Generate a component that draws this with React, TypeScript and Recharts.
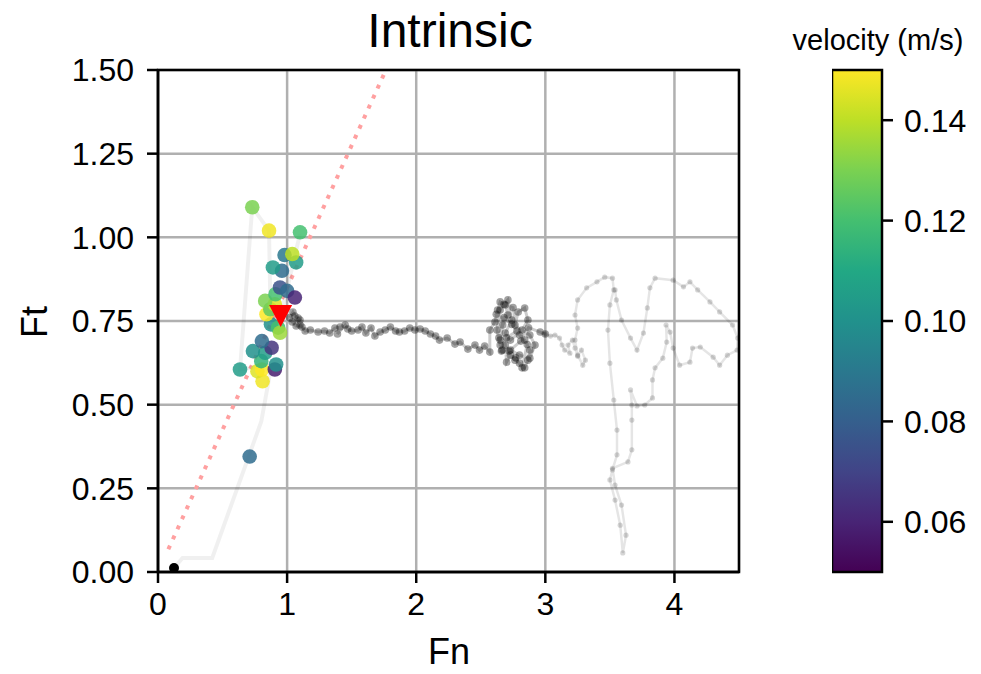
import React from "react";
import {
  ComposedChart,
  CartesianGrid,
  ReferenceArea,
  ReferenceLine,
  Scatter,
  ScatterChart,
  XAxis,
  YAxis,
} from "recharts";

const FONT = "'Liberation Sans', Arial, Helvetica, sans-serif";

const xTicks = [0, 1, 2, 3, 4];
const yTicks = [0, 0.25, 0.5, 0.75, 1.0, 1.25, 1.5];
const cbTicks = [0.06, 0.08, 0.1, 0.12, 0.14];
const velRange = [0.05, 0.15];

// contact points coloured by sliding velocity
const pointFn = [0.71, 0.81, 0.77, 0.805, 0.905, 0.635, 0.8, 0.915, 0.83, 0.88, 0.735, 0.805, 0.875, 0.93, 0.945, 0.84, 0.87, 0.905, 0.83, 0.91, 0.945, 1.0, 1.06, 0.96, 0.89, 1.07, 0.98, 1.04, 1.1, 0.86, 0.73];
const pointFt = [0.345, 0.57, 0.6, 0.605, 0.605, 0.605, 0.63, 0.62, 0.655, 0.67, 0.66, 0.69, 0.74, 0.73, 0.715, 0.77, 0.785, 0.8, 0.81, 0.83, 0.85, 0.84, 0.82, 0.9, 0.91, 0.925, 0.947, 0.95, 1.015, 1.02, 1.09];
const pointVel = [0.085, 0.148, 0.145, 0.15, 0.058, 0.105, 0.115, 0.1, 0.105, 0.065, 0.1, 0.085, 0.1, 0.12, 0.135, 0.15, 0.125, 0.145, 0.13, 0.12, 0.075, 0.085, 0.06, 0.085, 0.105, 0.105, 0.09, 0.14, 0.12, 0.148, 0.13];

// faint path joining the approach
const approachFn = [0.124, 0.19, 0.42, 0.8, 0.88, 0.635, 0.73, 0.86, 0.87, 0.93, 1.1, 1.0, 0.95];
const approachFt = [0.012, 0.042, 0.042, 0.45, 0.62, 0.605, 1.09, 1.02, 0.8, 0.73, 1.01, 0.85, 0.765];

// force trajectory after contact: sliding run and dense cluster
const headFn = [
  1.02, 1.045, 1.06, 1.085, 1.1, 1.04, 1.07, 1.1, 1.115, 1.14, 1.18, 1.24, 1.29, 1.33, 1.37, 1.41, 1.39, 1.45, 1.47, 1.5,
  1.55, 1.58, 1.61, 1.65, 1.68, 1.72, 1.76, 1.8, 1.84, 1.87, 1.91, 1.95, 1.99, 2.03, 2.07, 2.11, 2.15, 2.18, 2.24, 2.3,
  2.34, 2.4, 2.455, 2.49, 2.53, 2.57, 2.57, 2.61, 2.63, 2.65, 2.69, 2.71, 2.67, 2.65, 2.665, 2.69, 2.7, 2.73, 2.765, 2.8,
  2.84, 2.865, 2.88, 2.84, 2.8, 2.765, 2.79, 2.84, 2.865, 2.82, 2.73, 2.69, 2.74, 2.71, 2.65, 2.625, 2.65, 2.73, 2.8, 2.88,
  2.92, 2.88, 2.62, 2.68, 2.75, 2.78, 2.7, 2.66, 2.77, 2.82, 2.86, 2.74, 2.68, 2.64, 2.72, 2.81, 2.87,
  2.96, 3.0,
];
const headFt = [
  0.76, 0.777, 0.765, 0.759, 0.753, 0.747, 0.735, 0.738, 0.732, 0.72, 0.723, 0.717, 0.72, 0.714, 0.729, 0.732, 0.711, 0.738, 0.726, 0.72,
  0.723, 0.732, 0.714, 0.729, 0.705, 0.717, 0.723, 0.732, 0.72, 0.717, 0.72, 0.729, 0.723, 0.726, 0.72, 0.711, 0.705, 0.693, 0.699, 0.681,
  0.687, 0.666, 0.678, 0.663, 0.675, 0.657, 0.723, 0.747, 0.783, 0.807, 0.798, 0.768, 0.738, 0.693, 0.663, 0.678, 0.627, 0.648, 0.633, 0.624,
  0.61, 0.633, 0.663, 0.693, 0.708, 0.738, 0.777, 0.789, 0.753, 0.723, 0.693, 0.714, 0.753, 0.813, 0.783, 0.723, 0.678, 0.663, 0.648, 0.639,
  0.678, 0.708, 0.77, 0.8, 0.79, 0.72, 0.7, 0.66, 0.64, 0.61, 0.68, 0.74, 0.76, 0.7, 0.66, 0.69, 0.73,
  0.717, 0.711,
];

// force trajectory: later wandering loop (fainter)
const tailFn = [
  3.0, 3.04, 3.075, 3.11, 3.13, 3.15, 3.19, 3.175, 3.21, 3.23, 3.25, 3.28, 3.31, 3.29, 3.25, 3.23, 3.25,
  3.23, 3.25, 3.32, 3.4, 3.46, 3.52, 3.53, 3.5, 3.485, 3.5, 3.53, 3.555, 3.555, 3.52, 3.5, 3.54, 3.58, 3.6, 3.625, 3.59,
  3.54, 3.52, 3.64, 3.67, 3.67, 3.67, 3.66, 3.71, 3.77, 3.83, 3.83, 3.85, 3.91, 3.94, 3.935, 3.966, 3.99, 4.04, 4.12, 4.14,
  4.2, 4.3, 4.35, 4.41, 4.485, 4.49, 4.45, 4.35, 4.275, 4.18, 4.12, 4.07, 3.99, 3.85, 3.81, 3.79, 3.76, 3.71, 3.66, 3.59,
  3.55, 3.54,
];
const tailFt = [
  0.711, 0.705, 0.708, 0.699, 0.678, 0.663, 0.654, 0.678, 0.693, 0.669, 0.645, 0.663, 0.633, 0.618, 0.648, 0.693, 0.729,
  0.768, 0.813, 0.849, 0.867, 0.881, 0.878, 0.843, 0.798, 0.723, 0.624, 0.514, 0.424, 0.35, 0.305, 0.275, 0.215, 0.14, 0.057, 0.11, 0.2,
  0.26, 0.31, 0.329, 0.365, 0.454, 0.499, 0.544, 0.496, 0.499, 0.52, 0.574, 0.61, 0.639, 0.687, 0.738, 0.717, 0.669, 0.618, 0.627, 0.669,
  0.672, 0.642, 0.618, 0.648, 0.663, 0.699, 0.738, 0.777, 0.807, 0.843, 0.867, 0.852, 0.872, 0.878, 0.849, 0.789, 0.714, 0.663, 0.699, 0.753,
  0.813, 0.843,
];

// friction cone boundary (dotted red)
const coneFn = [0.08, 1.765];
const coneFt = [0.068, 1.5];

const startFn = [0.124];
const startFt = [0.012];
const meanFn = [0.95];
const meanFt = [0.765];

const VIRIDIS = ["#440154", "#482475", "#414487", "#355f8d", "#2a788e", "#21918c", "#22a884", "#44bf70", "#7ad151", "#bddf26", "#fde725"];

function hexToRgb(h: string) {
  return [parseInt(h.slice(1, 3), 16), parseInt(h.slice(3, 5), 16), parseInt(h.slice(5, 7), 16)];
}

function viridis(v: number) {
  const t = Math.max(0, Math.min(1, (v - velRange[0]) / (velRange[1] - velRange[0])));
  const s = t * (VIRIDIS.length - 1);
  const i = Math.min(VIRIDIS.length - 2, Math.floor(s));
  const f = s - i;
  const a = hexToRgb(VIRIDIS[i]);
  const b = hexToRgb(VIRIDIS[i + 1]);
  const c = a.map((x, k) => Math.round(x + (b[k] - x) * f));
  return `rgb(${c[0]},${c[1]},${c[2]})`;
}

const zip = (fn: number[], ft: number[]) => fn.map((x, i) => ({ fn: x, ft: ft[i] }));

const points = pointFn.map((x, i) => ({ fn: x, ft: pointFt[i], vel: pointVel[i] }));
const approach = zip(approachFn, approachFt);
const head = zip(headFn, headFt);
const tail = zip(tailFn, tailFt);
const start = zip(startFn, startFt);
const mean = zip(meanFn, meanFt);

const tickStyle = { fontSize: 32, fill: "#000", fontFamily: FONT };
const lineStyle = { stroke: "#000", strokeWidth: 2.5 };

export default function App() {
  return (
    <div style={{ position: "absolute", left: 0, top: 0, width: 981, height: 674, background: "#fff" }}>
      <div style={{ position: "absolute", left: 0, top: 0 }}>
        <ScatterChart width={981} height={674} margin={{ top: 70, right: 242, bottom: 42, left: 58 }}>
          <CartesianGrid stroke="#b0b0b0" strokeWidth={2.5} />
          <XAxis
            type="number"
            dataKey="fn"
            domain={[0, 4.5]}
            ticks={xTicks}
            allowDataOverflow
            height={60}
            tick={tickStyle}
            tickLine={lineStyle}
            axisLine={lineStyle}
            tickSize={11}
            tickMargin={9}
          />
          <YAxis
            type="number"
            dataKey="ft"
            domain={[0, 1.5]}
            ticks={yTicks}
            allowDataOverflow
            width={100}
            tick={tickStyle}
            tickLine={lineStyle}
            axisLine={lineStyle}
            tickSize={11}
            tickMargin={13}
            tickFormatter={(v: number) => v.toFixed(2)}
          />
          <Scatter
            data={approach}
            isAnimationActive={false}
            line={{ stroke: "rgba(0,0,0,0.06)", strokeWidth: 4 }}
            shape={() => <g />}
          />
          <Scatter
            data={start}
            isAnimationActive={false}
            shape={(p: any) => <circle cx={p.cx} cy={p.cy} r={5} fill="#000" />}
          />
          <Scatter
            data={points}
            isAnimationActive={false}
            shape={(p: any) => (
              <circle cx={p.cx} cy={p.cy} r={7.3} fill={viridis(p.payload.vel)} fillOpacity={0.85} />
            )}
          />
          <ReferenceLine
            segment={[
              { x: coneFn[0], y: coneFt[0] },
              { x: coneFn[1], y: coneFt[1] },
            ]}
            stroke="#ffa0a0"
            strokeWidth={4}
            strokeDasharray="4 7"
          />
          <Scatter
            data={tail}
            isAnimationActive={false}
            line={{ stroke: "rgba(0,0,0,0.1)", strokeWidth: 2.5 }}
            shape={(p: any) => <circle cx={p.cx} cy={p.cy} r={2.6} fill="rgba(0,0,0,0.16)" />}
          />
          <Scatter
            data={head}
            isAnimationActive={false}
            line={{ stroke: "rgba(0,0,0,0.2)", strokeWidth: 3 }}
            shape={(p: any) => <circle cx={p.cx} cy={p.cy} r={3.8} fill="rgba(0,0,0,0.36)" />}
          />
          <Scatter
            data={mean}
            isAnimationActive={false}
            shape={(p: any) => (
              <polygon
                points={`${p.cx - 11.5},${p.cy - 11} ${p.cx + 11.5},${p.cy - 11} ${p.cx},${p.cy + 11}`}
                fill="#ff0000"
              />
            )}
          />
          <ReferenceArea x1={0} x2={4.5} y1={0} y2={1.5} fill="none" stroke="#000" strokeWidth={2.5} />
        </ScatterChart>
      </div>

      <div style={{ position: "absolute", left: 832, top: 0 }}>
        <ComposedChart
          width={149}
          height={674}
          data={[{ x: 0, v: velRange[0] }, { x: 1, v: velRange[1] }]}
          margin={{ top: 70, right: 0, bottom: 102, left: 0 }}
        >
          <defs>
            <linearGradient id="viridisGrad" x1="0" y1="1" x2="0" y2="0">
              {VIRIDIS.map((c, i) => (
                <stop key={c} offset={`${(i / (VIRIDIS.length - 1)) * 100}%`} stopColor={c} />
              ))}
            </linearGradient>
          </defs>
          <XAxis type="number" dataKey="x" domain={[0, 1]} hide />
          <YAxis
            type="number"
            dataKey="v"
            orientation="right"
            domain={velRange}
            ticks={cbTicks}
            width={99}
            tick={tickStyle}
            tickLine={lineStyle}
            axisLine={false}
            tickSize={11}
            tickMargin={11}
            tickFormatter={(v: number) => v.toFixed(2)}
          />
          <ReferenceArea
            x1={0}
            x2={1}
            y1={velRange[0]}
            y2={velRange[1]}
            fill="url(#viridisGrad)"
            fillOpacity={1}
            stroke="#000"
            strokeWidth={2.5}
          />
        </ComposedChart>
      </div>

      <svg
        width={981}
        height={674}
        style={{ position: "absolute", left: 0, top: 0, pointerEvents: "none" }}
        fontFamily={FONT}
      >
        <text x={450} y={47} textAnchor="middle" fontSize={48} fill="#000">
          Intrinsic
        </text>
        <text x={449} y={664} textAnchor="middle" fontSize={36} fill="#000">
          Fn
        </text>
        <text x={47} y={322} textAnchor="middle" fontSize={36} fill="#000" transform="rotate(-90 47 322)">
          Ft
        </text>
        <text x={878} y={50} textAnchor="middle" fontSize={29} fill="#000">
          velocity (m/s)
        </text>
      </svg>
    </div>
  );
}
